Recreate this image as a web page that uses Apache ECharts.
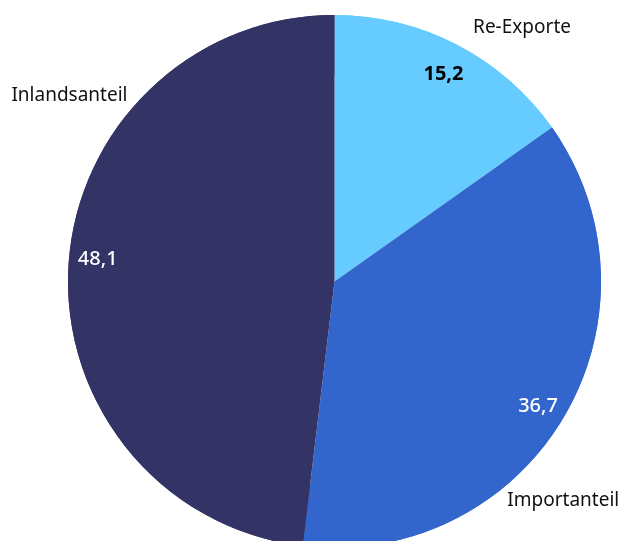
<!DOCTYPE html>
<html lang="de">
<head>
    <meta charset="UTF-8">
    <script src="https://cdn.jsdelivr.net/npm/echarts@6/dist/echarts.min.js"></script>
    <style>
        * { margin: 0; padding: 0; }
        body { background: #fff; }
        #chart { width: 622px; height: 541px; }
    </style>
    <title>Anteile</title>
</head>
<body>
<div id="chart"></div>
<script>
    // daten
    var names = ['Re-Exporte', 'Importanteil', 'Inlandsanteil'];
    var values = [15.2, 36.7, 48.1];
    var colors = ['#66CCFF', '#3366CC', '#333366'];
    var valueColors = ['#000', '#fff', '#fff'];

    // lage der namensbeschriftung (winkel im uhrzeigersinn ab oben, abstand vom mittelpunkt)
    var nameAngle = [36.4, 133.8, 305.1];
    var nameDist = [316, 317, 324];
    // kleine verschiebung der wertbeschriftung
    var valueShift = [[-1, 5], [-2, 2], [2, -8]];

    var cx = 334.5, cy = 281.5, r = 266.5;
    var font = '"Noto Sans", sans-serif';

    var data = names.map(function (n, i) {
        return { name: n, value: values[i], itemStyle: { color: colors[i] } };
    });
    var ringData = names.map(function (n, i) {
        return {
            name: n, value: values[i], itemStyle: { color: colors[i] },
            label: { color: valueColors[i], fontWeight: i == 0 ? 'bold' : 500, offset: valueShift[i] }
        };
    });

    var chart = echarts.init(document.getElementById('chart'));
    chart.setOption({
        animation: false,
        series: [
            {
                type: 'pie',
                center: [cx, cy],
                radius: [0, r],
                startAngle: 90,
                avoidLabelOverlap: false,
                silent: true,
                data: data,
                label: {
                    show: true,
                    position: 'outside',
                    formatter: '{b}',
                    fontFamily: font,
                    fontSize: 19,
                    color: '#111'
                },
                labelLine: { show: false },
                labelLayout: function (p) {
                    var a = nameAngle[p.dataIndex] * Math.PI / 180;
                    var d = nameDist[p.dataIndex];
                    return {
                        x: cx + d * Math.sin(a),
                        y: cy - d * Math.cos(a),
                        align: 'center',
                        verticalAlign: 'middle'
                    };
                }
            },
            {
                type: 'pie',
                center: [cx, cy],
                radius: [206, r],
                startAngle: 90,
                avoidLabelOverlap: false,
                silent: true,
                data: ringData,
                label: {
                    show: true,
                    position: 'inside',
                    fontFamily: font,
                    fontSize: 20,
                    formatter: function (p) {
                        return String(p.value).replace('.', ',');
                    }
                },
                labelLine: { show: false }
            }
        ]
    });
</script>
</body>
</html>
